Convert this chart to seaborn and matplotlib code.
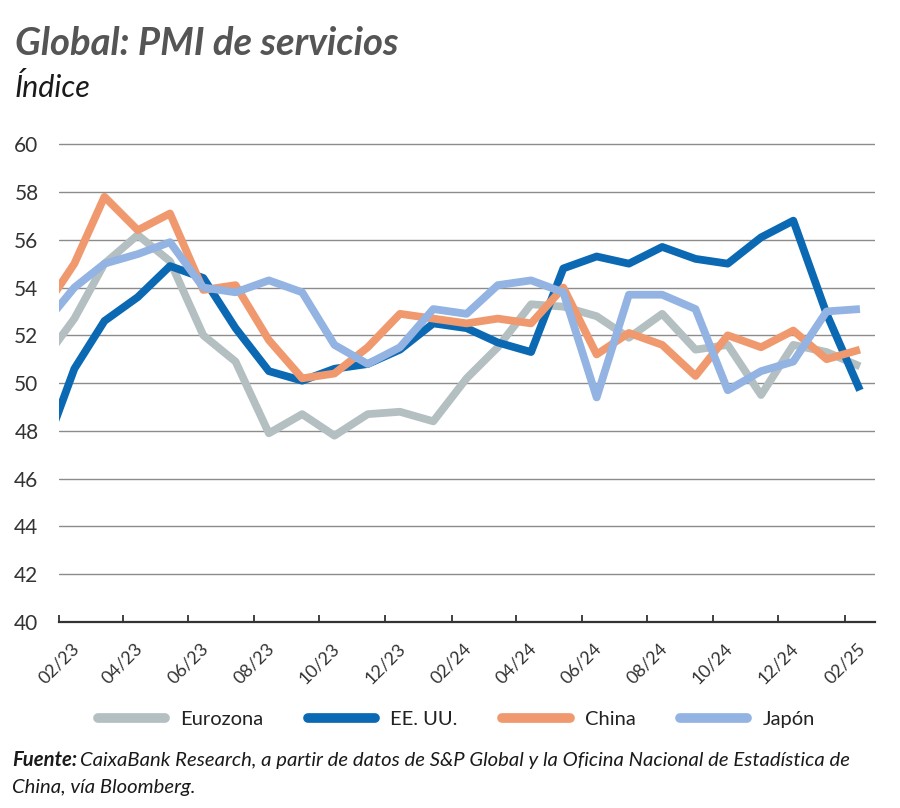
import numpy as np
import pandas as pd
import matplotlib
matplotlib.use("Agg")
import matplotlib.pyplot as plt
import matplotlib.dates as mdates
from matplotlib.lines import Line2D
import seaborn as sns

# ---------------- data ----------------
months = pd.date_range("2023-01-01", "2025-02-01", freq="MS").strftime("%Y-%m").tolist()
eurozona = [50.8, 52.7, 55.0, 56.2, 55.1, 52.0, 50.9, 47.9, 48.7, 47.8, 48.7, 48.8,
            48.4, 50.2, 51.5, 53.3, 53.2, 52.8, 51.9, 52.9, 51.4, 51.6, 49.5, 51.6, 51.3, 50.7]
eeuu = [46.8, 50.6, 52.6, 53.6, 54.9, 54.4, 52.3, 50.5, 50.1, 50.6, 50.8, 51.4,
        52.5, 52.3, 51.7, 51.3, 54.8, 55.3, 55.0, 55.7, 55.2, 55.0, 56.1, 56.8, 52.9, 49.7]
china = [52.9, 55.0, 57.8, 56.4, 57.1, 53.9, 54.1, 51.8, 50.2, 50.4, 51.5, 52.9,
         52.7, 52.5, 52.7, 52.5, 54.0, 51.2, 52.1, 51.6, 50.3, 52.0, 51.5, 52.2, 51.0, 51.4]
japon = [52.3, 54.0, 55.0, 55.4, 55.9, 54.0, 53.8, 54.3, 53.8, 51.6, 50.8, 51.5,
         53.1, 52.9, 54.1, 54.3, 53.8, 49.4, 53.7, 53.7, 53.1, 49.7, 50.5, 50.9, 53.0, 53.1]
series_names = ["Eurozona", "EE. UU.", "China", "Japón"]
tick_months = pd.date_range("2023-02-01", "2025-02-01", freq="2MS")

colors = {"Eurozona": "#b4bfc1", "EE. UU.": "#0b69b3", "China": "#f0996e", "Japón": "#93b3e2"}

# ---------------- dataframe ----------------
dates = pd.to_datetime(months) + pd.Timedelta(days=14)
df = pd.concat([
    pd.DataFrame({"fecha": dates, "valor": vals, "serie": name})
    for name, vals in zip(series_names, [eurozona, eeuu, china, japon])
], ignore_index=True)

# ---------------- style ----------------
sns.set_theme(style="white")
plt.rcParams["font.family"] = ["Lato", "DejaVu Sans"]

fig = plt.figure(figsize=(9.0, 8.08), dpi=100)
ax = fig.add_axes([0.0659, 0.2302, 0.9063, 0.5928])

ax.set_axisbelow(True)
ax.yaxis.grid(True, color="#8c8c8c", linewidth=1.0)
ax.xaxis.grid(False)

sns.lineplot(data=df, x="fecha", y="valor", hue="serie", hue_order=series_names,
             palette=colors, linewidth=5.6, legend=False, sort=False, ax=ax,
             estimator=None)
for ln in ax.get_lines():
    ln.set_solid_joinstyle("round")
    ln.set_solid_capstyle("butt")

ax.set_ylim(40, 60.05)
ax.set_yticks(np.arange(40, 61, 2))
ax.set_xlim(pd.Timestamp("2023-02-01"), pd.Timestamp("2025-03-01"))
ax.set_xticks(tick_months)
ax.xaxis.set_major_formatter(mdates.DateFormatter("%m/%y"))

for s in ["top", "right", "left"]:
    ax.spines[s].set_visible(False)
ax.spines["bottom"].set_color("#333333")
ax.spines["bottom"].set_linewidth(1.6)

ax.tick_params(axis="x", direction="in", length=5, width=1.3, color="#333333",
               bottom=True, labelsize=13, labelcolor="#333333", pad=13)
ax.tick_params(axis="y", length=0, labelsize=15, labelcolor="#333333", pad=15)
for lab in ax.get_xticklabels():
    lab.set_rotation(45)
    lab.set_ha("center")
ax.set_xlabel("")
ax.set_ylabel("")

# ---------------- legend ----------------
handles = [Line2D([0], [0], color=colors[n], linewidth=7, solid_capstyle="round")
           for n in series_names]
fig.legend(handles, series_names, loc="center", bbox_to_anchor=(0.507, 0.1095),
           ncol=4, frameon=False, fontsize=14.5, handlelength=3.35,
           handletextpad=0.75, columnspacing=2.2, labelcolor="#222222")

# ---------------- titles ----------------
fig.text(0.0167, 1 - 55 / 808, "Global: PMI de servicios", fontsize=27.5,
         fontweight="bold", fontstyle="italic", color="#555555", va="baseline")
fig.text(0.0156, 1 - 97 / 808, "Índice", fontsize=22, fontstyle="italic",
         color="#1a1a1a", va="baseline")

# ---------------- source ----------------
y1 = 1 - 766 / 808
y2 = 1 - 793 / 808
t_bold = fig.text(0.0133, y1, "Fuente:", fontsize=14.6, fontweight="bold",
                  fontstyle="italic", color="#1a1a1a", va="baseline")
fig.canvas.draw()
bb = t_bold.get_window_extent(renderer=fig.canvas.get_renderer())
x_after = (bb.x1 + 3) / fig.bbox.width
fig.text(x_after, y1,
         "CaixaBank Research, a partir de datos de S&P Global y la Oficina Nacional de Estadística de",
         fontsize=14.6, fontstyle="italic", color="#1a1a1a", va="baseline")
fig.text(0.0133, y2, "China, vía Bloomberg.", fontsize=14.6, fontstyle="italic",
         color="#1a1a1a", va="baseline")

fig.savefig("out.png", dpi=100)
